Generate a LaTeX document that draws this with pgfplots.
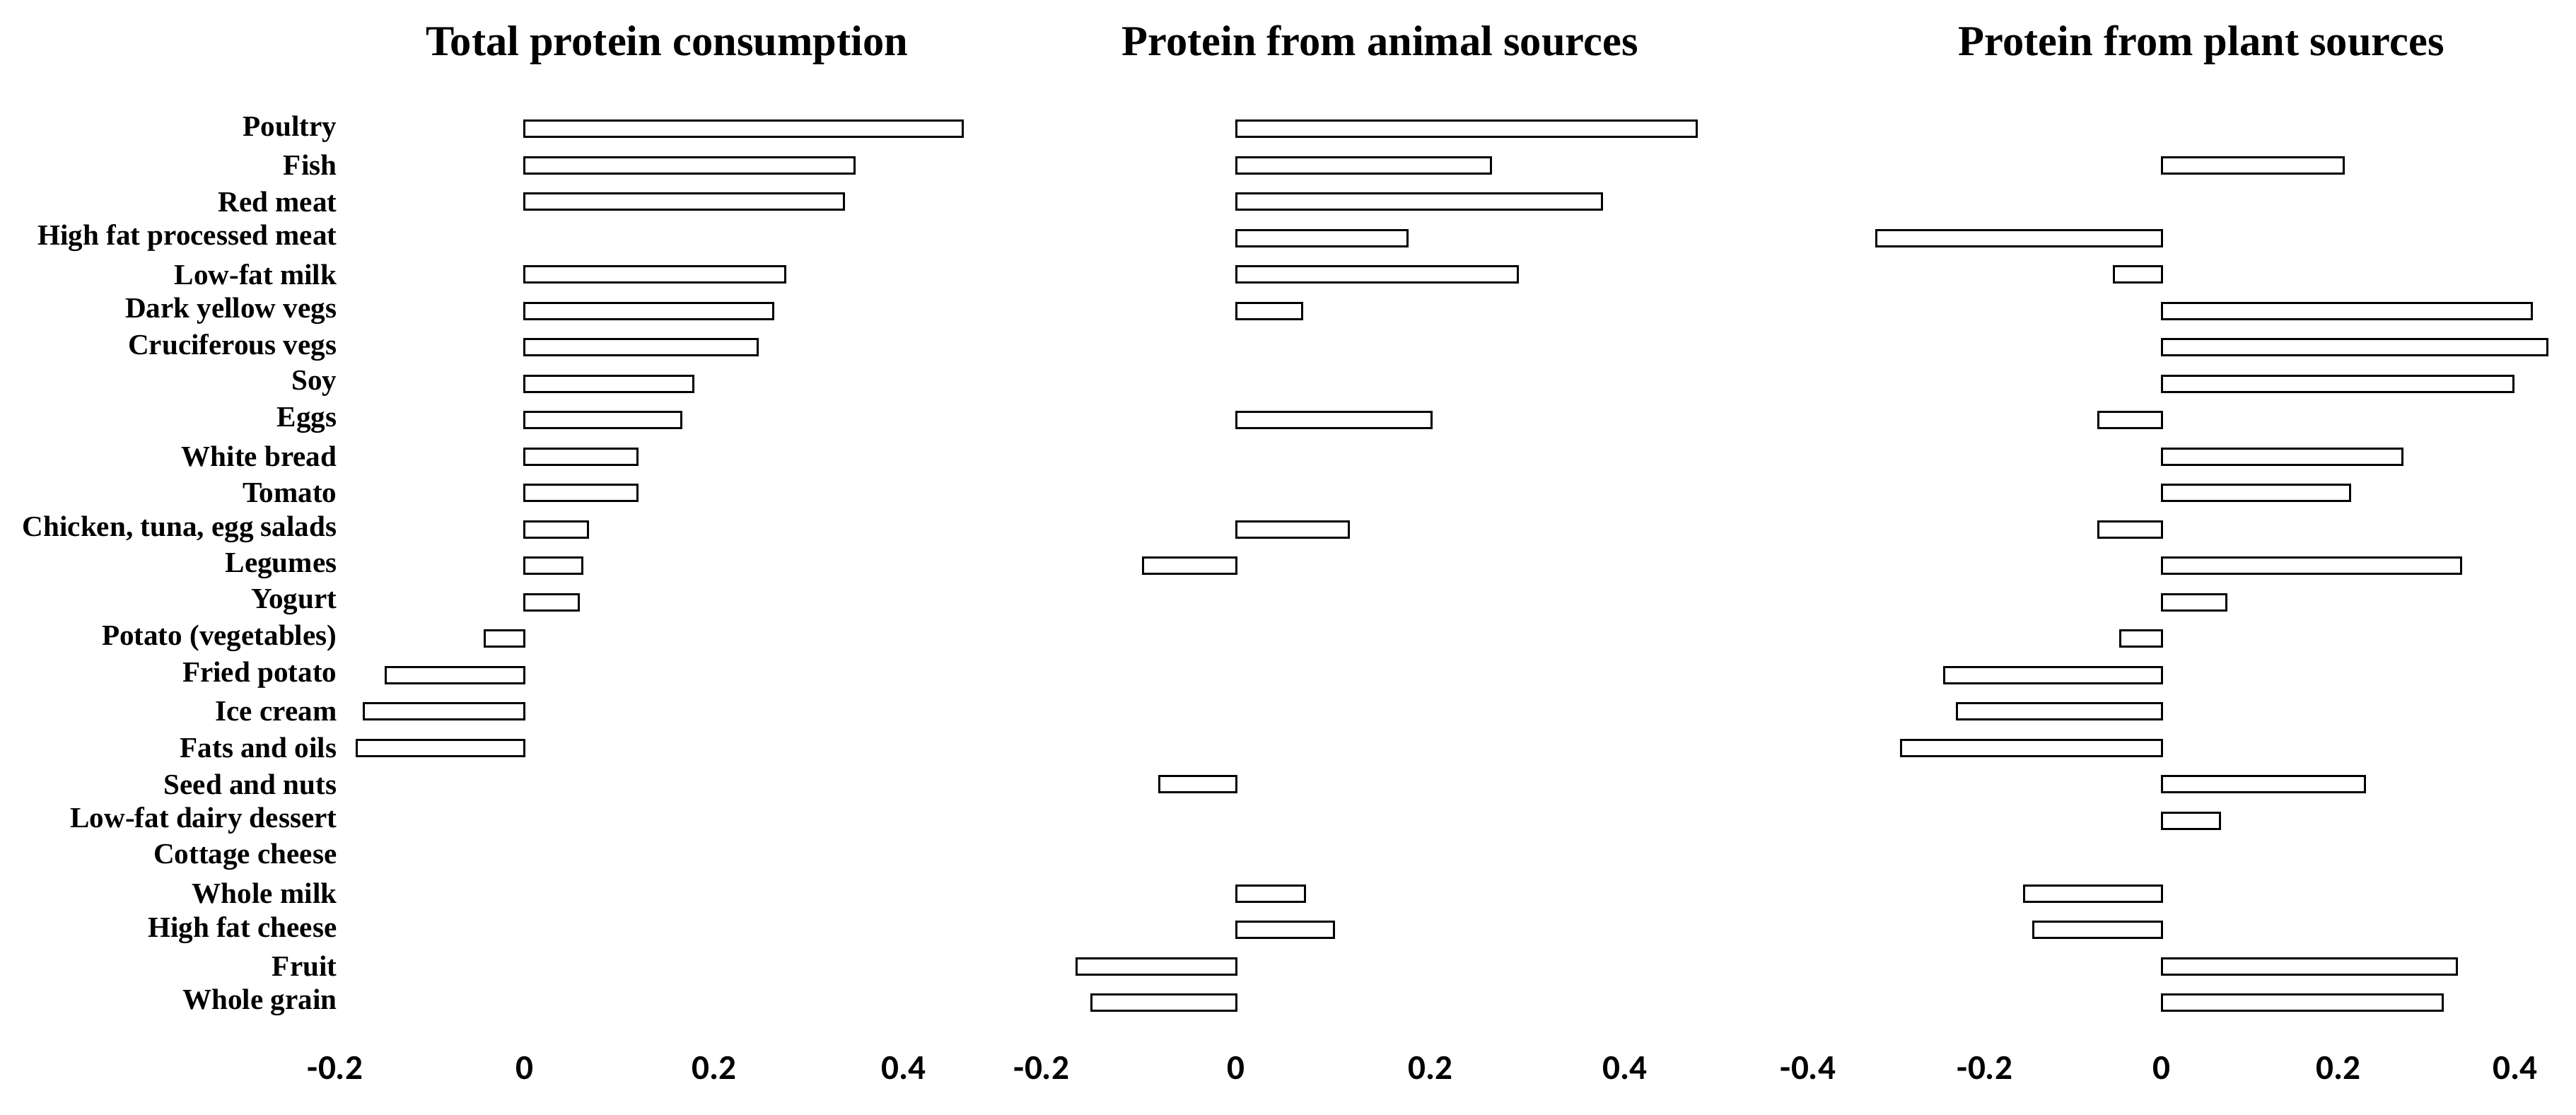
\documentclass[border=0pt]{standalone}
\usepackage{fontspec}
\setmainfont{Liberation Serif}
\newfontfamily\tickfont{Carlito}
\usepackage{pgfplots}
\pgfplotsset{compat=1.18}

% 1 px of the reference = 0.1 mm
\pgfplotsset{
  panel/.style={
    anchor=south west, scale only axis, height=128.75mm,
    ymin=-0.5, ymax=24.5, y dir=reverse,
    axis lines*=left, axis line style={draw=none}, tick style={draw=none},
    xbar, bar width=2.3mm, clip=false,
    xticklabel style={font=\tickfont\bfseries\fontsize{14}{16}\selectfont,
      anchor=center, yshift=-6.7mm},
    ytick=\empty,
  },
  bars/.style={fill=white, draw=black, line width=0.3mm},
}
\newcommand{\ttl}{\bfseries\fontsize{17.2}{20}\selectfont}

\begin{document}
\begin{tikzpicture}
\useasboundingbox (0,0) rectangle (364.3mm,157.7mm);

% Total protein consumption
\begin{axis}[panel, at={(47.4mm,13.3mm)}, width=93.8mm,
    xmin=-0.2, xmax=0.5,
    xtick={-0.2,0,0.2,0.4}, xticklabels={-0.2,0,0.2,0.4},
    ytick={0,...,24},
    yticklabels={Poultry, Fish, Red meat, High fat processed meat,
      Low-fat milk, Dark yellow vegs, Cruciferous vegs, Soy, Eggs,
      White bread, Tomato, {Chicken, tuna, egg salads}, Legumes, Yogurt,
      Potato (vegetables), Fried potato, Ice cream, Fats and oils,
      Seed and nuts, Low-fat dairy dessert, Cottage cheese, Whole milk,
      High fat cheese, Fruit, Whole grain},
    yticklabel style={font=\bfseries\fontsize{11.7}{14}\selectfont,
      inner xsep=0pt, xshift=1.8mm},
]
\addplot[bars] coordinates {
  (0.462,0) (0.348,1) (0.337,2) (0.275,4) (0.262,5) (0.246,6)
  (0.178,7) (0.165,8) (0.119,9) (0.119,10) (0.067,11) (0.061,12)
  (0.057,13) (-0.042,14) (-0.147,15) (-0.170,16) (-0.177,17)
};
\node[font=\ttl, anchor=base] at (axis cs:0.15,-2.02) {Total protein consumption};
\end{axis}

% Protein from animal sources
\begin{axis}[panel, at={(147.3mm,13.3mm)}, width=96.25mm,
    xmin=-0.2, xmax=0.5,
    xtick={-0.2,0,0.2,0.4}, xticklabels={-0.2,0,0.2,0.4},
]
\addplot[bars] coordinates {
  (0.474,0) (0.262,1) (0.376,2) (0.176,3) (0.290,4) (0.068,5)
  (0.201,8) (0.116,11) (-0.096,12) (-0.079,18) (0.071,21)
  (0.101,22) (-0.164,23) (-0.149,24)
};
\node[font=\ttl, anchor=base] at (axis cs:0.148,-2.02) {Protein from animal sources};
\end{axis}

% Protein from plant sources
\begin{axis}[panel, at={(255.7mm,13.3mm)}, width=106.25mm,
    xmin=-0.4, xmax=0.45,
    xtick={-0.4,-0.2,0,0.2,0.4}, xticklabels={-0.4,-0.2,0,0.2,0.4},
]
\addplot[bars] coordinates {
  (0.206,1) (-0.323,3) (-0.054,4) (0.419,5) (0.436,6) (0.398,7)
  (-0.072,8) (0.272,9) (0.213,10) (-0.072,11) (0.339,12) (0.073,13)
  (-0.047,14) (-0.246,15) (-0.232,16) (-0.295,17) (0.230,18)
  (0.066,19) (-0.156,21) (-0.145,22) (0.334,23) (0.318,24)
};
\node[font=\ttl, anchor=base] at (axis cs:0.045,-2.02) {Protein from plant sources};
\end{axis}
\end{tikzpicture}
\end{document}
